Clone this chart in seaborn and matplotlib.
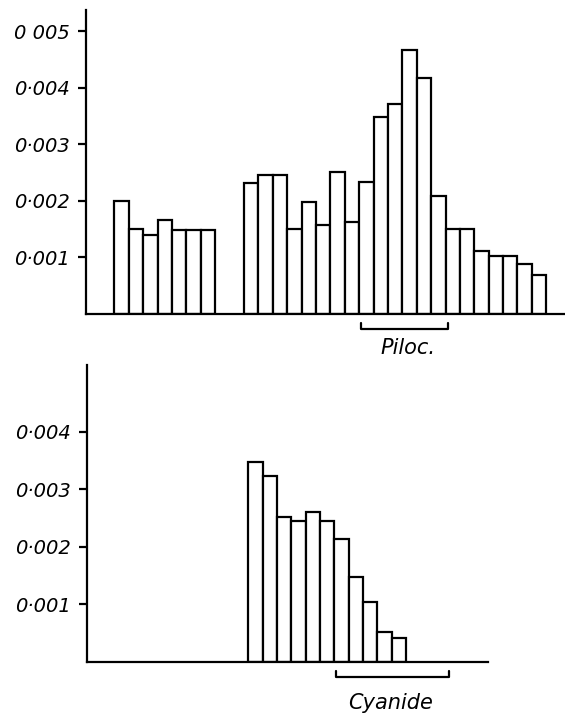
import numpy as np
import pandas as pd
import matplotlib
matplotlib.use("Agg")
import matplotlib.pyplot as plt
import seaborn as sns

# ---- data ----
# upper panel (pilocarpine), sample number -> rate
piloc_samples = [1, 2, 3, 4, 5, 6, 7,
                 10, 11, 12, 13, 14, 15, 16, 17, 18, 19, 20, 21, 22, 23,
                 24, 25, 26, 27, 28, 29, 30]
piloc_values = [0.00200, 0.00150, 0.00140, 0.00167, 0.00148, 0.00148, 0.00148,
                0.00231, 0.00246, 0.00246, 0.00151, 0.00198, 0.00157, 0.00251,
                0.00163, 0.00233, 0.00348, 0.00372, 0.00467, 0.00418, 0.00208,
                0.00150, 0.00150, 0.00112, 0.00103, 0.00103, 0.00089, 0.00069]
piloc_ticks = [0.001, 0.002, 0.003, 0.004, 0.005]
piloc_ticklabels = ["0·001", "0·002", "0·003", "0·004", "0 005"]
piloc_bracket = (17.6, 23.7)

# lower panel (cyanide)
cyan_samples = [12, 13, 14, 15, 16, 17, 18, 19, 20, 21, 22]
cyan_values = [0.00348, 0.00323, 0.00252, 0.00245, 0.00261, 0.00245,
               0.00213, 0.00148, 0.00103, 0.00052, 0.00042]
cyan_ticks = [0.001, 0.002, 0.003, 0.004]
cyan_ticklabels = ["0·001", "0·002", "0·003", "0·004"]
cyan_bracket = (17.6, 25.5)

sns.set_style("ticks")
plt.rcParams["font.family"] = ["DejaVu Sans"]
plt.rcParams["text.color"] = "black"
plt.rcParams["ytick.color"] = "black"
plt.rcParams["ytick.labelcolor"] = "black"

fig = plt.figure(figsize=(5.65, 7.22), dpi=100)
ax1 = fig.add_axes([0.1522, 0.5651, 0.8478, 0.4211])
ax2 = fig.add_axes([0.1545, 0.0835, 0.7092, 0.4109])

lw = 1.6


def panel(ax, samples, values, ticks, ticklabels, xlim, ylim):
    df = pd.DataFrame({"sample": samples, "rate": values})
    sns.barplot(data=df, x="sample", y="rate", native_scale=True, width=1,
                color="white", edgecolor="black", linewidth=lw,
                errorbar=None, ax=ax)
    ax.set_xlim(*xlim)
    ax.set_ylim(*ylim)
    ax.set_xticks([])
    ax.set_yticks(ticks)
    ax.set_yticklabels(ticklabels, fontsize=14, style="italic", color="black")
    ax.tick_params(axis="y", length=6, width=lw, pad=6, color="black")
    ax.set_xlabel("")
    ax.set_ylabel("")
    for s in ["top", "right"]:
        ax.spines[s].set_visible(False)
    for s in ["left", "bottom"]:
        ax.spines[s].set_linewidth(lw)
        ax.spines[s].set_color("black")
    for p in ax.patches:
        p.set_facecolor("white")


def bracket(ax, span, y_line, y_tip, label, x_text, y_text):
    tr = ax.get_xaxis_transform()
    a, b = span
    ax.plot([a, a, b, b], [y_tip, y_line, y_line, y_tip], color="black",
            lw=lw, transform=tr, clip_on=False)
    ax.text(x_text, y_text, label, transform=tr, ha="center", va="center",
            fontsize=15, style="italic", color="black")


panel(ax1, piloc_samples, piloc_values, piloc_ticks, piloc_ticklabels,
      (-1.47, 31.8), (0, 0.00538))
panel(ax2, cyan_samples, cyan_values, cyan_ticks, cyan_ticklabels,
      (0.28, 28.2), (0, 0.00516))

bracket(ax1, piloc_bracket, -0.049, -0.029, "Piloc.", 20.9, -0.112)
bracket(ax2, cyan_bracket, -0.051, -0.031, "Cyanide", 21.4, -0.139)

fig.savefig("out.png", dpi=100)
